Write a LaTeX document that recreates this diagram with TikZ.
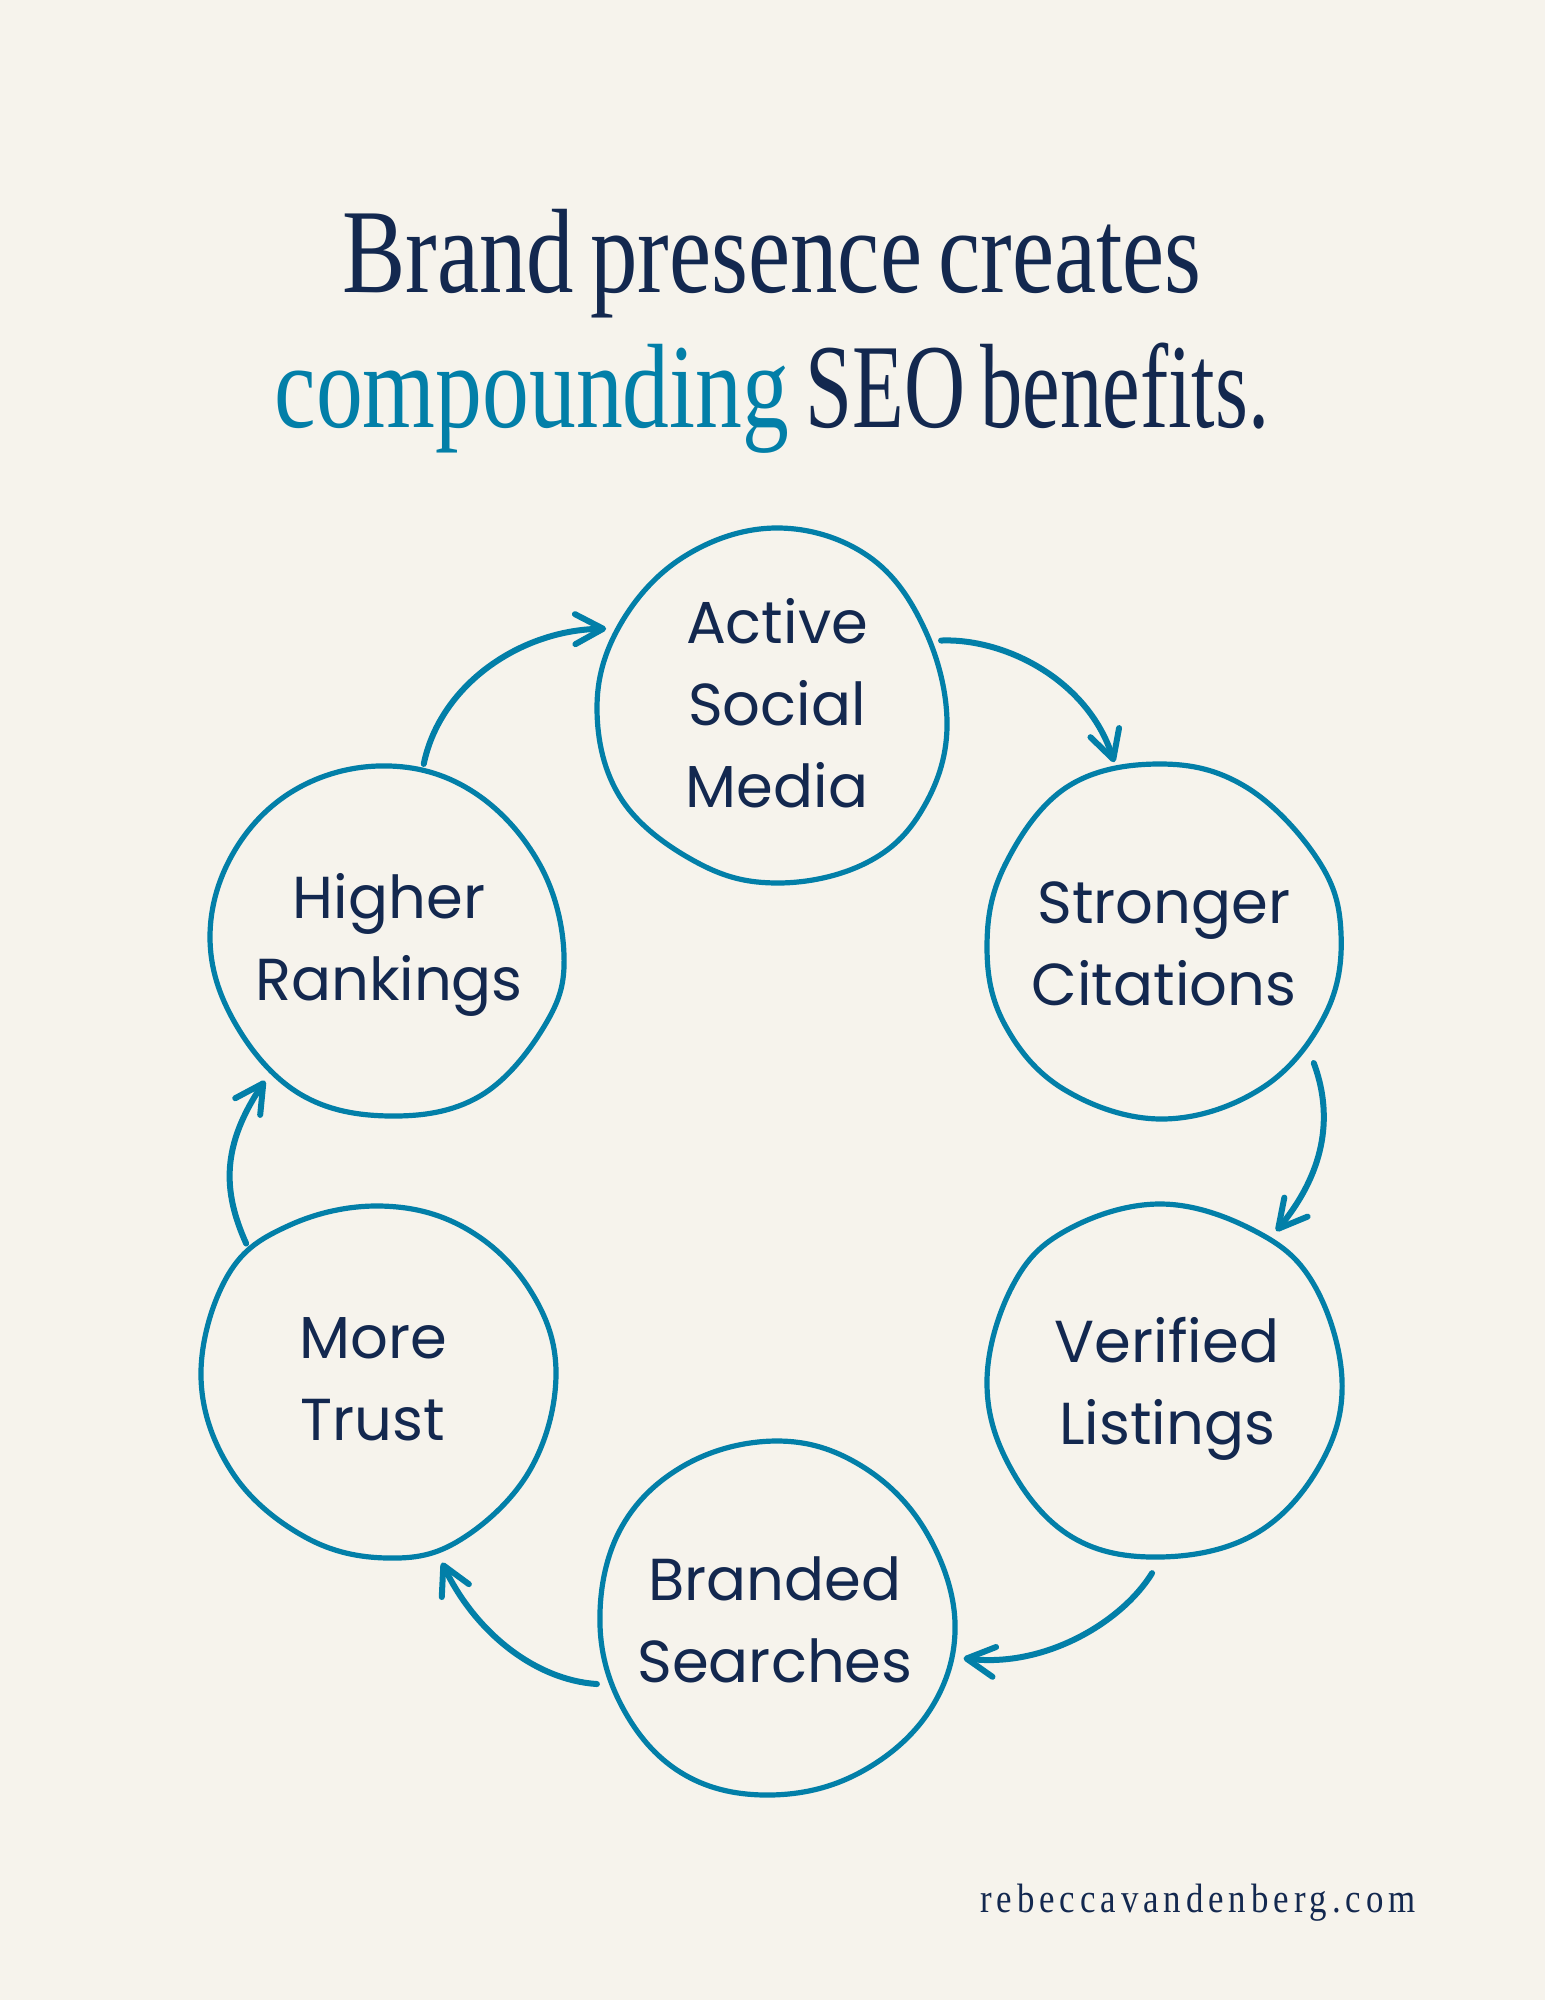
\documentclass[tikz,border=0pt]{standalone}
\usepackage{fontspec}
\usepackage{tikz}
\usetikzlibrary{arrows.meta,shapes}
\newfontfamily\stagefont{Poppins}
\newfontfamily\titlefont[FakeStretch=0.79,WordSpace=0.7]{Liberation Serif}
\newfontfamily\compfont[FakeStretch=0.78,WordSpace=0.7]{Liberation Serif}
\newfontfamily\seofont[FakeStretch=0.705,WordSpace=0.7]{Liberation Serif}
\newfontfamily\footfont[FakeStretch=0.85,LetterSpace=12]{Liberation Serif}
\definecolor{paper}{RGB}{246,243,236}
\definecolor{tealine}{RGB}{2,127,168}
\definecolor{navy}{RGB}{19,40,79}
\tikzset{
  stage/.style = {circle, inner sep=0pt, align=center, text=navy,
                  font=\stagefont\fontsize{29.6}{41}\selectfont},
  blob/.style  = {draw=tealine, line width=2.6pt, smooth cycle, tension=0.64},
  flow/.style  = {draw=tealine, line width=3pt, line cap=round,
                  shorten <=-1.5pt, shorten >=0.5pt,
                  -{Straight Barb[round, length=14pt, width=15pt]}},
  title/.style = {align=center, inner sep=0pt, text=navy,
                  font=\titlefont\fontsize{60}{67.5}\selectfont},
  foot/.style  = {inner sep=0pt, text=navy, anchor=base,
                  font=\footfont\fontsize{20.5}{24}\selectfont}
}
\begin{document}
\begin{tikzpicture}[x=0.5pt, y=-0.5pt]

  % page
  \fill[paper] (0,0) rectangle (1545,2000);

  % heading and web address
  \node[title] (head) at (772,333.5) {\strut Brand presence creates\\
    \strut{\compfont\color{tealine}compounding} {\seofont SEO benefits.}};
  \node[foot] (site) at (1198,1912) {rebeccavandenberg.com};

  % the hand drawn outlines
  \draw[blob] plot coordinates {(777,528) (868,556) (925,630) (947,727) (922,810) (866,863)
    (778,883) (698,863) (622,800) (597,710) (620,625) (685,556)};
  \draw[blob] plot coordinates {(1160,764) (1246,787) (1318,860) (1341,933) (1325,1015) (1262,1088)
    (1163,1119) (1065,1090) (1005,1025) (987,947) (1005,865) (1067,787)};
  \draw[blob] plot coordinates {(1160,1204) (1253,1230) (1313,1283) (1342,1380) (1320,1465) (1255,1534)
    (1160,1557) (1072,1537) (1010,1467) (987,1380) (1013,1285) (1067,1230)};
  \draw[blob] plot coordinates {(777,1441) (860,1465) (925,1530) (955,1623) (930,1710) (859,1773)
    (770,1795) (685,1775) (625,1712) (600,1625) (620,1530) (685,1465)};
  \draw[blob] plot coordinates {(380,1206) (465,1228) (530,1290) (556,1373) (530,1470) (460,1540)
    (387,1558) (305,1537) (232,1472) (201,1377) (228,1275) (290,1225)};
  \draw[blob] plot coordinates {(390,766) (475,793) (540,865) (564,955) (545,1025) (480,1096)
    (390,1116) (300,1094) (235,1023) (210,937) (235,850) (300,787)};

  % the six stages, clockwise from the top
  \node[stage, minimum size=183pt] (c1) at (777,709) {\strut Active\\\strut Social\\\strut Media};
  \node[stage, minimum size=191pt] (c2) at (1164,948) {\strut Stronger\\\strut Citations};
  \node[stage, minimum size=189pt] (c3) at (1167,1387) {\strut Verified\\\strut Listings};
  \node[stage, minimum size=190pt] (c4) at (775,1625) {\strut Branded\\\strut Searches};
  \node[stage, minimum size=191pt] (c5) at (373,1383) {\strut More\\\strut Trust};
  \node[stage, minimum size=185pt] (c6) at (389,943) {\strut Higher\\\strut Rankings};

  % arrows between neighbouring stages
  \draw[flow, shorten <=-3pt] (c1.22) .. controls (1005,638) and (1088,680) .. (c2.105.7);
  \draw[flow] (c2.-38.3) .. controls (1332,1112) and (1328,1168) .. (c3.55.3);
  \draw[flow] (c3.265.6) .. controls (1122,1622) and (1045,1668) .. (c4.-10.2);
  \draw[flow] (c4.198.2) .. controls (535,1680) and (475,1632) .. (c5.-69.3);
  \draw[flow, shorten >=0pt] (c5.132.9) .. controls (222,1190) and (222,1145) .. (c6.228.2);
  \draw[flow, shorten >=3pt] (c6.79.7) .. controls (440,685) and (520,630) .. (c1.154.4);

\end{tikzpicture}
\end{document}
